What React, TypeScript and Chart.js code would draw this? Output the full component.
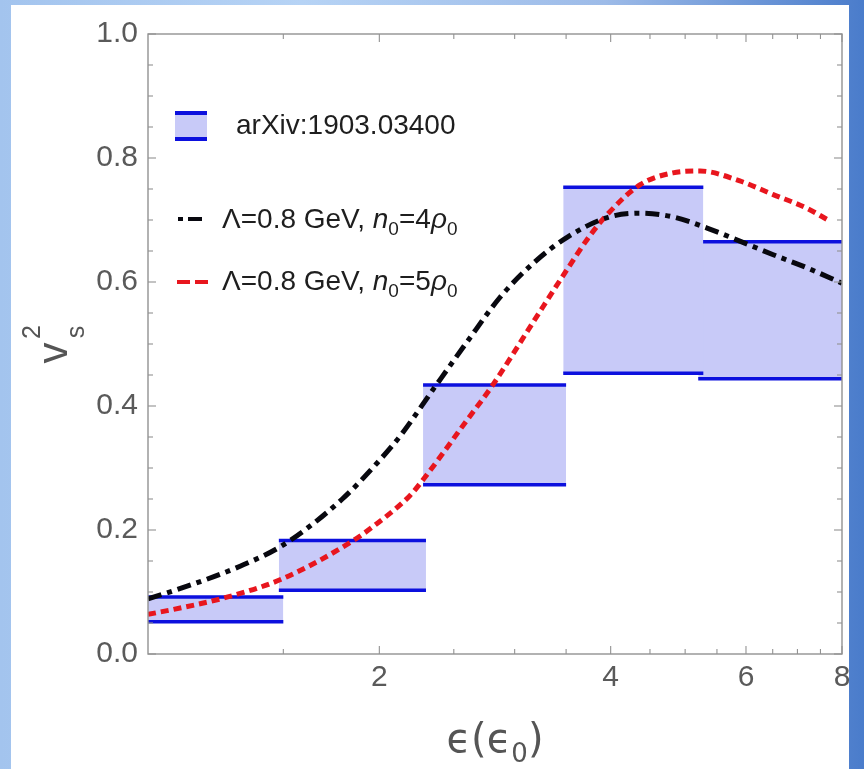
import React, { useEffect, useRef } from "react";
import { Chart, registerables } from "chart.js";

Chart.register(...registerables);

// Band data (arXiv:1903.03400)
const boxStart = [1, 1.48, 2.28, 3.47, 5.2];
const boxEnd = [1.5, 2.3, 3.5, 5.28, 8];
const boxLow = [0.052, 0.103, 0.273, 0.453, 0.444];
const boxHigh = [0.092, 0.183, 0.434, 0.753, 0.665];

// Λ=0.8 GeV, n0=4ρ0 (black dash-dot)
const blackX = [1.0, 1.08, 1.32, 1.5, 1.79, 2.0, 2.13, 2.36, 2.6, 2.87, 3.17, 3.51, 3.96, 4.37, 4.82, 5.34, 5.89, 6.51, 7.2, 8.0];
const blackY = [0.089, 0.102, 0.142, 0.176, 0.25, 0.312, 0.352, 0.43, 0.503, 0.575, 0.63, 0.672, 0.704, 0.711, 0.705, 0.687, 0.666, 0.644, 0.623, 0.598];

// Λ=0.8 GeV, n0=5ρ0 (red dashed)
const redX = [1.0, 1.08, 1.27, 1.5, 1.85, 1.96, 2.19, 2.26, 2.6, 2.81, 3.17, 3.51, 3.76, 3.96, 4.37, 4.82, 5.23, 5.89, 6.51, 7.2, 7.72];
const redY = [0.064, 0.072, 0.092, 0.122, 0.183, 0.205, 0.255, 0.275, 0.377, 0.434, 0.535, 0.62, 0.675, 0.709, 0.757, 0.776, 0.779, 0.763, 0.741, 0.719, 0.698];

// Ticks
const xLabelTicks = [2, 4, 6, 8];
const xMinorTicks = [1.5, 2.5, 3, 3.5, 4.5, 5, 5.5, 6.5, 7, 7.5];
const yLabelTicks = [0, 0.2, 0.4, 0.6, 0.8, 1.0];
const yMinorTicks = [0.05, 0.1, 0.15, 0.25, 0.3, 0.35, 0.45, 0.5, 0.55, 0.65, 0.7, 0.75, 0.85, 0.9, 0.95];

const BLUE = "rgb(12,16,222)";
const FILL = "rgb(200,202,248)";
const RED = "rgb(232,22,30)";
const BLACK = "#08080f";
const FONT = "'Liberation Sans', Arial, sans-serif";

const framePlugin = {
  id: "frameTicks",
  afterDatasetsDraw(chart: any) {
    const { ctx, chartArea: a, scales } = chart;
    const xs = scales.x;
    const ys = scales.y;
    ctx.save();
    ctx.strokeStyle = "#929292";
    ctx.lineWidth = 1.4;
    ctx.strokeRect(a.left, a.top, a.right - a.left, a.bottom - a.top);
    ctx.lineWidth = 1.1;
    const seg = (x1: number, y1: number, x2: number, y2: number) => {
      ctx.beginPath();
      ctx.moveTo(x1, y1);
      ctx.lineTo(x2, y2);
      ctx.stroke();
    };
    const xt = (v: number, len: number) => {
      const p = xs.getPixelForValue(v);
      seg(p, a.bottom, p, a.bottom - len);
      seg(p, a.top, p, a.top + len);
    };
    const yt = (v: number, len: number) => {
      const p = ys.getPixelForValue(v);
      seg(a.left, p, a.left + len, p);
      seg(a.right, p, a.right - len, p);
    };
    xLabelTicks.forEach((v) => xt(v, 8));
    xMinorTicks.forEach((v) => xt(v, 5));
    yLabelTicks.forEach((v) => yt(v, 8));
    yMinorTicks.forEach((v) => yt(v, 5));
    ctx.restore();
  },
};

export default function App() {
  const ref = useRef<HTMLCanvasElement>(null);

  useEffect(() => {
    if (!ref.current) return;
    const datasets: any[] = [];
    boxStart.forEach((s, i) => {
      datasets.push({
        label: "band" + i + "hi",
        data: [
          { x: s, y: boxHigh[i] },
          { x: boxEnd[i], y: boxHigh[i] },
        ],
        borderColor: BLUE,
        borderWidth: 3.5,
        backgroundColor: FILL,
        fill: "+1",
        pointRadius: 0,
        order: 2,
      });
      datasets.push({
        label: "band" + i + "lo",
        data: [
          { x: s, y: boxLow[i] },
          { x: boxEnd[i], y: boxLow[i] },
        ],
        borderColor: BLUE,
        borderWidth: 3.5,
        fill: false,
        pointRadius: 0,
        order: 1,
      });
    });
    datasets.push({
      label: "n0=4rho0",
      data: blackX.map((x, i) => ({ x, y: blackY[i] })),
      borderColor: BLACK,
      borderWidth: 5,
      borderDash: [14, 6, 5, 6],
      fill: false,
      pointRadius: 0,
      cubicInterpolationMode: "monotone",
      order: 0,
    });
    datasets.push({
      label: "n0=5rho0",
      data: redX.map((x, i) => ({ x, y: redY[i] })),
      borderColor: RED,
      borderWidth: 5,
      borderDash: [8, 5],
      fill: false,
      pointRadius: 0,
      cubicInterpolationMode: "monotone",
      order: 0,
    });

    const chart = new Chart(ref.current, {
      type: "line",
      data: { datasets },
      options: {
        responsive: false,
        animation: false,
        layout: { padding: { left: 0, top: 34, right: 22, bottom: 0 } },
        plugins: { legend: { display: false }, tooltip: { enabled: false } },
        scales: {
          x: {
            type: "logarithmic",
            min: 1,
            max: 8,
            position: "bottom",
            afterBuildTicks: (axis: any) => {
              axis.ticks = xLabelTicks.map((v) => ({ value: v }));
            },
            afterFit: (axis: any) => {
              axis.height = 115;
            },
            ticks: {
              callback: (v: any) => String(v),
              font: { family: FONT, size: 30 },
              color: "#5a5a5a",
              padding: 6,
              maxRotation: 0,
              autoSkip: false,
            },
            grid: { display: false, drawTicks: false },
            border: { display: false },
          },
          y: {
            type: "linear",
            min: 0,
            max: 1,
            afterBuildTicks: (axis: any) => {
              axis.ticks = yLabelTicks.map((v) => ({ value: v }));
            },
            afterFit: (axis: any) => {
              axis.width = 148;
            },
            ticks: {
              callback: (v: any) => Number(v).toFixed(1),
              font: { family: FONT, size: 30 },
              color: "#5a5a5a",
              padding: 10,
              autoSkip: false,
            },
            grid: { display: false, drawTicks: false },
            border: { display: false },
          },
        },
      } as any,
      plugins: [framePlugin],
    });
    return () => chart.destroy();
  }, []);

  const legendText: React.CSSProperties = {
    position: "absolute",
    fontFamily: FONT,
    fontSize: 28,
    lineHeight: "32px",
    color: "#1e1e1e",
    whiteSpace: "nowrap",
  };
  const sub: React.CSSProperties = { fontSize: 19, position: "relative", top: 7 };

  return (
    <div
      style={{
        position: "fixed",
        left: 0,
        top: 0,
        width: 864,
        height: 769,
        overflow: "hidden",
        background: "linear-gradient(to right, #a3c4ee 0%, #b6d3f5 35%, #9dbbe8 70%, #4a7ccb 100%)",
      }}
    >
      <div style={{ position: "absolute", left: 11, top: 5, width: 838, height: 764, background: "#ffffff" }} />
      <canvas ref={ref} width={864} height={769} style={{ position: "absolute", left: 0, top: 0, width: 864, height: 769 }} />

      {/* Legend */}
      <div
        style={{
          position: "absolute",
          left: 175,
          top: 111,
          width: 32,
          height: 22,
          borderTop: `4px solid ${BLUE}`,
          borderBottom: `4px solid ${BLUE}`,
          background: FILL,
        }}
      />
      <div style={{ ...legendText, left: 236, top: 109 }}>arXiv:1903.03400</div>

      <div style={{ position: "absolute", left: 178, top: 217, width: 5, height: 4, background: BLACK }} />
      <div style={{ position: "absolute", left: 188, top: 217, width: 14, height: 4, background: BLACK }} />
      <div style={{ ...legendText, left: 222, top: 203 }}>
        Λ=0.8 GeV, <i>n</i>
        <span style={sub}>0</span>=4<i>ρ</i>
        <span style={sub}>0</span>
      </div>

      <div style={{ position: "absolute", left: 177, top: 280, width: 13, height: 4, background: RED }} />
      <div style={{ position: "absolute", left: 195, top: 280, width: 13, height: 4, background: RED }} />
      <div style={{ ...legendText, left: 222, top: 265 }}>
        Λ=0.8 GeV, <i>n</i>
        <span style={sub}>0</span>=5<i>ρ</i>
        <span style={sub}>0</span>
      </div>

      {/* X axis title */}
      <div
        style={{
          position: "absolute",
          left: 495,
          top: 740,
          transform: "translate(-50%, -50%)",
          fontFamily: "'DejaVu Sans', sans-serif",
          fontSize: 40,
          lineHeight: "48px",
          color: "#555555",
          whiteSpace: "nowrap",
        }}
      >
        ϵ(ϵ<span style={{ fontSize: 26, position: "relative", top: 10 }}>0</span>)
      </div>

      {/* Y axis title */}
      <div
        style={{
          position: "absolute",
          left: 52 - 24,
          top: 341 - 30,
          width: 48,
          height: 60,
          transform: "rotate(-90deg)",
          fontFamily: FONT,
          color: "#555555",
        }}
      >
        <span style={{ position: "absolute", left: 12, top: 31, transform: "translate(-50%, -50%)", fontSize: 42, lineHeight: "42px" }}>v</span>
        <span style={{ position: "absolute", left: 33, top: 9, transform: "translate(-50%, -50%)", fontSize: 25, lineHeight: "26px" }}>2</span>
        <span style={{ position: "absolute", left: 33, top: 53, transform: "translate(-50%, -50%)", fontSize: 25, lineHeight: "26px" }}>s</span>
      </div>
    </div>
  );
}
